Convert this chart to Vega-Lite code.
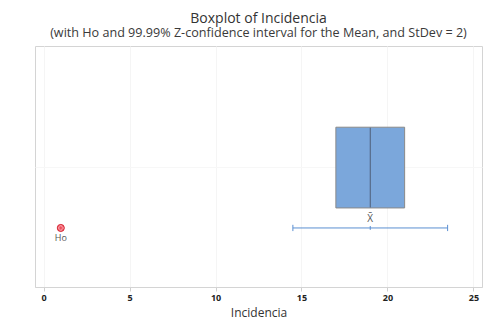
{
  "$schema": "https://vega.github.io/schema/vega-lite/v6.json",
  "width": 447,
  "height": 241,
  "autosize": {"type": "none"},
  "padding": {"left": 35, "top": 46, "right": 17, "bottom": 41},
  "background": "white",
  "config": {
    "font": "Open Sans",
    "view": {"stroke": "#d4d4d4", "strokeWidth": 1}
  },
  "title": {
    "text": "Boxplot of Incidencia",
    "subtitle": "(with Ho and 99.99% Z-confidence interval for the Mean, and StDev = 2)",
    "fontSize": 14,
    "fontWeight": "normal",
    "color": "#333333",
    "subtitleFontSize": 12.6,
    "subtitleColor": "#3a3a3a",
    "subtitleFontWeight": "normal",
    "subtitlePadding": 1,
    "anchor": "middle",
    "frame": "group",
    "offset": 6
  },
  "data": {"values": [{"q1": 17, "median": 19, "q3": 21, "mean": 19, "lo": 14.5, "hi": 23.5, "ho": 1}]},
  "encoding": {},
  "layer": [
    {
      "mark": {"type": "rect", "fill": "#7BA7DB", "stroke": "#8a8a8a", "strokeWidth": 1},
      "encoding": {
        "x": {"field": "q1", "type": "quantitative", "scale": {"domain": [-0.5, 25.5], "nice": false, "zero": false},
          "axis": {"values": [0, 5, 10, 15, 20, 25], "title": "Incidencia", "titleFontSize": 12, "titleFontWeight": "normal", "titleColor": "#333333", "titlePadding": 5,
            "labelFontSize": 9, "labelColor": "#222222", "labelFontWeight": "bold", "domainColor": "#d4d4d4", "tickColor": "#cfcfcf", "tickSize": 4,
            "grid": true, "gridColor": "#f5f5f5", "labelPadding": 2}},
        "x2": {"field": "q3"},
        "y": {"datum": 0.328, "type": "quantitative", "scale": {"domain": [0, 1], "nice": false},
          "axis": {"values": [0.5], "labels": false, "ticks": false, "domain": false, "title": null, "grid": true, "gridColor": "#f7f7f7"}},
        "y2": {"datum": 0.663}
      }
    },
    {
      "mark": {"type": "rule", "color": "#4f5f78", "strokeWidth": 1},
      "encoding": {
        "x": {"field": "median", "type": "quantitative"},
        "y": {"datum": 0.33, "type": "quantitative"},
        "y2": {"datum": 0.661}
      }
    },
    {
      "mark": {"type": "rule", "color": "#5b8fd2", "strokeWidth": 1},
      "encoding": {
        "x": {"field": "lo", "type": "quantitative"},
        "x2": {"field": "hi"},
        "y": {"datum": 0.245, "type": "quantitative"}
      }
    },
    {
      "mark": {"type": "rule", "color": "#5b8fd2", "strokeWidth": 1},
      "encoding": {
        "x": {"field": "lo", "type": "quantitative"},
        "y": {"datum": 0.232, "type": "quantitative"},
        "y2": {"datum": 0.258}
      }
    },
    {
      "mark": {"type": "rule", "color": "#5b8fd2", "strokeWidth": 1},
      "encoding": {
        "x": {"field": "hi", "type": "quantitative"},
        "y": {"datum": 0.232, "type": "quantitative"},
        "y2": {"datum": 0.258}
      }
    },
    {
      "mark": {"type": "rule", "color": "#5b8fd2", "strokeWidth": 1},
      "encoding": {
        "x": {"field": "mean", "type": "quantitative"},
        "y": {"datum": 0.237, "type": "quantitative"},
        "y2": {"datum": 0.253}
      }
    },
    {
      "mark": {"type": "text", "text": "X̄", "fontSize": 10, "color": "#555555", "fill": "#555555", "dy": -9},
      "encoding": {
        "x": {"field": "mean", "type": "quantitative"},
        "y": {"datum": 0.245, "type": "quantitative"}
      }
    },
    {
      "mark": {"type": "point", "shape": "circle", "size": 50, "filled": true, "fill": "#EE4F5C", "stroke": "#d42a38", "strokeWidth": 1, "opacity": 1},
      "encoding": {
        "x": {"field": "ho", "type": "quantitative"},
        "y": {"datum": 0.245, "type": "quantitative"}
      }
    },
    {
      "mark": {"type": "point", "shape": "cross", "size": 22, "filled": false, "stroke": "#ffb0b8", "strokeWidth": 0.7, "opacity": 1},
      "encoding": {
        "x": {"field": "ho", "type": "quantitative"},
        "y": {"datum": 0.245, "type": "quantitative"}
      }
    },
    {
      "mark": {"type": "text", "text": "Ho", "fontSize": 9, "color": "#555555", "fill": "#555555", "dy": 10},
      "encoding": {
        "x": {"field": "ho", "type": "quantitative"},
        "y": {"datum": 0.245, "type": "quantitative"}
      }
    }
  ]
}
